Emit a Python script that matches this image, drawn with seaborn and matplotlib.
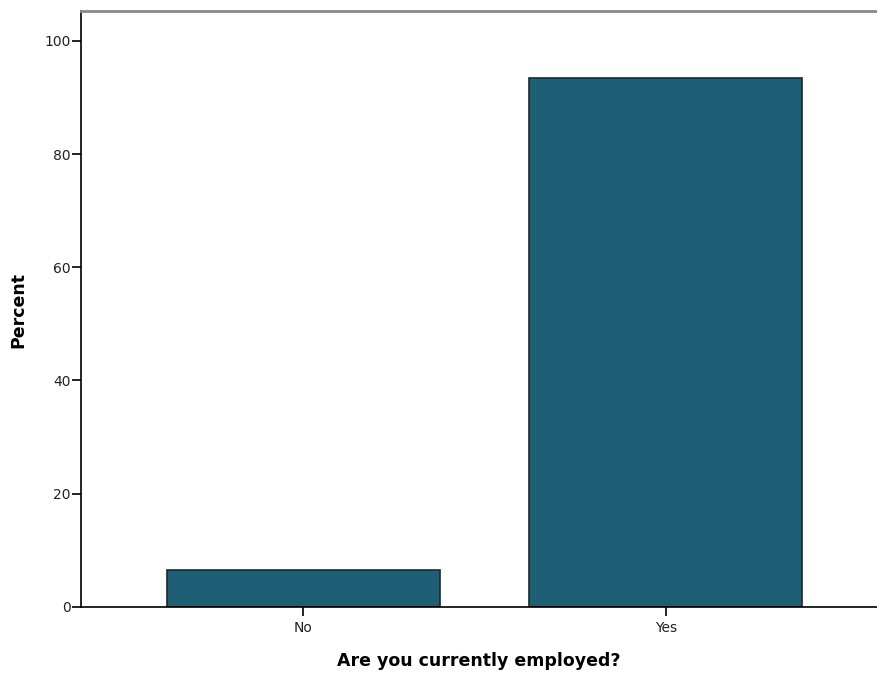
import matplotlib
matplotlib.use("Agg")
import matplotlib.pyplot as plt
import seaborn as sns
import pandas as pd

categories = ["No", "Yes"]
percent = [6.5, 93.5]
yticks = [0, 20, 40, 60, 80, 100]

sns.set_style("white")
plt.rcParams["font.family"] = ["DejaVu Sans"]
plt.rcParams["text.color"] = "black"
plt.rcParams["axes.labelcolor"] = "black"
plt.rcParams["xtick.color"] = "black"
plt.rcParams["ytick.color"] = "black"

df = pd.DataFrame({"employed": categories, "percent": percent})

fig = plt.figure(figsize=(8.77, 6.74), dpi=100)
ax = fig.add_axes([81.3 / 877, 1 - 606.7 / 674, (877 - 81.3) / 877, (606.7 - 11) / 674])

sns.barplot(data=df, x="employed", y="percent", color="#1F5F75", saturation=1,
            width=0.753, edgecolor="#1a2a30", linewidth=1.2, ax=ax)

ax.set_xlim(-0.6126, 1.583)
ax.set_ylim(0, 105.3)
ax.set_yticks(yticks)
ax.set_yticklabels([str(t) for t in yticks])

for s in ["left", "bottom"]:
    ax.spines[s].set_color("black")
    ax.spines[s].set_linewidth(1.2)
ax.spines["top"].set_color("#8a8a8a")
ax.spines["top"].set_linewidth(2)
ax.spines["right"].set_visible(False)

ax.tick_params(axis="both", which="both", direction="out", length=6.5, width=1.2,
               color="black", labelsize=10, left=True, bottom=True, pad=1,
               labelcolor="#222222")
ax.tick_params(axis="x", pad=3.5)
ax.set_xlabel("Are you currently employed?", fontsize=12.5, fontweight="bold", labelpad=0)
ax.set_ylabel("Percent", fontsize=12.5, fontweight="bold", labelpad=0)
ax.xaxis.set_label_coords(0.5, -(661 - 606.7) / (606.7 - 11), transform=ax.transAxes)
ax.xaxis.label.set_va("center")
ax.yaxis.set_label_coords(-(81.3 - 18) / (877 - 81.3), (606.7 - 310) / (606.7 - 11), transform=ax.transAxes)
ax.yaxis.label.set_va("center")

fig.savefig("out.png", dpi=100)
